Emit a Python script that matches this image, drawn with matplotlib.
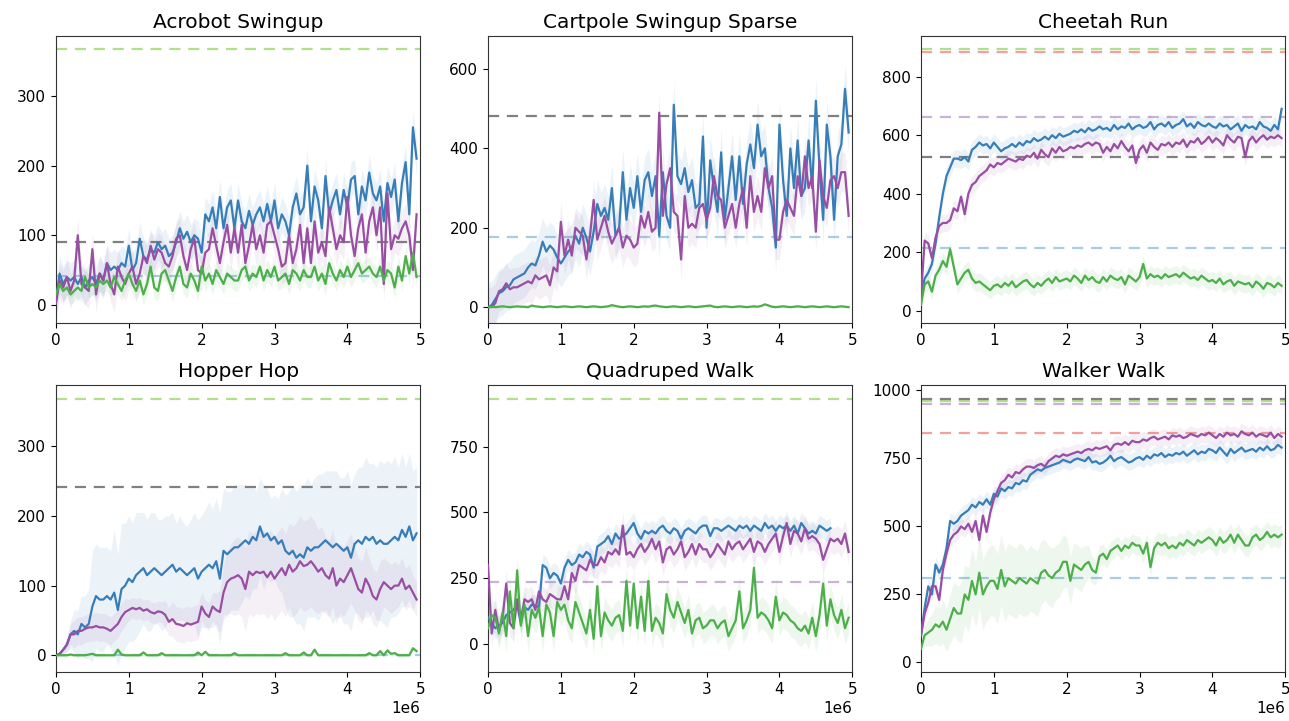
import numpy as np
import matplotlib
matplotlib.use("Agg")
import matplotlib.pyplot as plt

# environment steps, one eval every 50k steps
steps = np.arange(100) * 50000

titles = ["Acrobot Swingup", "Cartpole Swingup Sparse", "Cheetah Run",
          "Hopper Hop", "Quadruped Walk", "Walker Walk"]

# ---- mean returns ----
acro_blue = [5, 45, 30, 40, 35, 40, 30, 40, 25, 35,
             40, 30, 45, 35, 60, 50, 55, 50, 60, 55,
             85, 50, 60, 95, 70, 65, 80, 75, 90, 80,
             85, 70, 75, 90, 110, 95, 105, 90, 100, 95,
             75, 130, 120, 140, 110, 155, 110, 140, 150, 110,
             150, 120, 110, 135, 115, 130, 140, 120, 145, 120,
             150, 110, 130, 120, 100, 140, 160, 130, 140, 200,
             120, 170, 150, 110, 185, 130, 150, 165, 130, 165,
             140, 180, 185, 130, 170, 150, 190, 160, 150, 170,
             120, 175, 155, 180, 120, 175, 205, 130, 255, 210]
acro_purple = [2, 35, 25, 40, 20, 35, 100, 30, 25, 20,
               80, 15, 45, 35, 60, 30, 15, 55, 40, 30,
               45, 55, 30, 45, 70, 60, 85, 65, 80, 75,
               60, 55, 70, 95, 100, 70, 50, 80, 95, 50,
               45, 75, 80, 110, 85, 60, 90, 115, 75, 110,
               75, 115, 60, 85, 115, 80, 100, 75, 115, 120,
               100, 80, 55, 60, 100, 60, 80, 115, 60, 110,
               60, 120, 75, 90, 70, 140, 110, 80, 100, 90,
               155, 100, 70, 110, 130, 75, 120, 140, 100, 140,
               30, 160, 80, 100, 95, 110, 120, 100, 50, 130]
acro_green = [15, 30, 20, 25, 15, 20, 25, 20, 40, 25,
              30, 25, 35, 30, 35, 25, 40, 30, 20, 35,
              45, 30, 20, 35, 15, 30, 55, 25, 20, 45,
              50, 35, 20, 40, 55, 30, 25, 45, 35, 20,
              55, 35, 45, 30, 50, 40, 30, 45, 40, 35,
              35, 50, 55, 35, 45, 40, 55, 35, 50, 40,
              55, 35, 40, 45, 30, 50, 45, 35, 50, 40,
              40, 55, 35, 45, 30, 60, 45, 35, 50, 40,
              55, 40, 50, 60, 45, 50, 55, 45, 40, 55,
              35, 50, 45, 25, 55, 35, 70, 45, 75, 40]

cart_blue = [0, 5, 20, 35, 40, 50, 55, 70, 75, 80,
             85, 100, 110, 105, 130, 165, 140, 155, 145, 125,
             110, 125, 140, 150, 180, 160, 200, 175, 140, 190,
             260, 230, 250, 220, 300, 180, 200, 340, 220, 300,
             250, 330, 240, 320, 340, 280, 330, 180, 340, 230,
             200, 510, 330, 310, 350, 290, 320, 250, 260, 430,
             200, 370, 300, 240, 390, 220, 300, 380, 270, 380,
             260, 360, 410, 350, 460, 380, 400, 300, 250, 150,
             460, 320, 230, 400, 300, 420, 280, 300, 420, 300,
             520, 350, 220, 460, 380, 220, 380, 410, 550, 440]
cart_purple = [0, 0, 10, 40, 45, 60, 45, 50, 50, 55,
               60, 65, 60, 80, 70, 75, 80, 55, 100, 90,
               215, 130, 170, 130, 200, 190, 180, 120, 180, 270,
               170, 200, 230, 190, 160, 180, 200, 150, 180, 170,
               150, 160, 230, 200, 240, 190, 200, 490, 230, 310,
               350, 240, 230, 120, 280, 200, 210, 200, 250, 260,
               220, 250, 330, 280, 270, 200, 230, 260, 200, 260,
               300, 200, 330, 240, 280, 240, 350, 300, 330, 170,
               170, 240, 270, 250, 230, 330, 280, 380, 300, 330,
               190, 370, 280, 250, 320, 330, 300, 340, 340, 230]
cart_green = [0, 1, 0, 1, 2, 1, 0, 1, 2, 1,
              1, 0, 4, 2, 1, 0, 1, 2, 1, 0,
              1, 2, 1, 0, 1, 2, 1, 0, 1, 2,
              1, 0, 1, 2, 5, 3, 1, 0, 1, 2,
              1, 0, 1, 2, 1, 3, 4, 2, 1, 0,
              1, 2, 1, 0, 1, 2, 1, 0, 1, 2,
              3, 4, 1, 0, 1, 2, 1, 0, 1, 2,
              1, 0, 1, 2, 1, 3, 7, 4, 1, 0,
              1, 2, 1, 0, 1, 2, 1, 0, 1, 2,
              1, 0, 1, 2, 1, 0, 1, 2, 1, 0]

cheetah_blue = [50, 110, 130, 160, 230, 320, 400, 460, 490, 520,
                520, 515, 525, 510, 550, 560, 575, 565, 570, 555,
                575, 560, 545, 555, 560, 570, 560, 575, 565, 580,
                575, 590, 580, 585, 595, 585, 600, 590, 605, 595,
                600, 605, 615, 610, 620, 610, 625, 615, 620, 630,
                620, 625, 615, 635, 620, 630, 625, 640, 620, 630,
                635, 625, 630, 645, 620, 635, 640, 630, 645, 625,
                635, 640, 655, 630, 640, 625, 645, 635, 630, 640,
                630, 625, 640, 630, 635, 620, 630, 640, 615, 635,
                625, 630, 620, 645, 630, 625, 615, 635, 620, 690]
cheetah_purple = [50, 240, 230, 180, 250, 290, 300, 300, 310, 350,
                  340, 390, 330, 400, 430, 440, 460, 470, 480, 500,
                  490, 505, 500, 510, 520, 515, 510, 520, 515, 530,
                  525, 540, 520, 550, 535, 525, 555, 540, 560, 545,
                  550, 560, 555, 565, 560, 570, 575, 565, 575, 570,
                  540, 560, 545, 570, 555, 580, 560, 545, 565, 505,
                  550, 565, 540, 575, 560, 550, 570, 565, 575, 560,
                  575, 570, 585, 560, 580, 575, 590, 570, 580, 595,
                  575, 590, 580, 565, 600, 585, 575, 595, 590, 525,
                  580, 595, 575, 590, 600, 585, 595, 590, 600, 590]
cheetah_green = [20, 90, 100, 65, 120, 140, 170, 150, 210, 150,
                 90, 110, 130, 140, 110, 95, 100, 90, 80, 70,
                 85, 90, 80, 95, 85, 100, 80, 90, 100, 105,
                 90, 80, 95, 85, 100, 110, 95, 115, 100, 105,
                 110, 100, 120, 110, 95, 120, 105, 115, 100, 95,
                 115, 100, 120, 110, 105, 115, 90, 120, 110, 100,
                 115, 160, 110, 125, 115, 120, 110, 125, 115, 120,
                 125, 115, 130, 120, 110, 115, 105, 120, 110, 100,
                 105, 95, 110, 90, 100, 105, 85, 100, 95, 90,
                 95, 80, 100, 90, 75, 95, 90, 80, 95, 85]

hopper_blue = [0, 2, 8, 15, 30, 35, 30, 45, 40, 45,
               70, 85, 80, 80, 85, 80, 90, 65, 95, 100,
               110, 105, 115, 120, 125, 115, 120, 125, 120, 115,
               120, 125, 130, 120, 125, 120, 115, 120, 125, 110,
               120, 125, 130, 125, 135, 110, 150, 145, 150, 155,
               155, 160, 165, 160, 170, 165, 185, 170, 175, 165,
               170, 160, 165, 150, 145, 150, 140, 145, 140, 155,
               150, 155, 155, 160, 165, 160, 155, 160, 155, 150,
               155, 140, 160, 165, 160, 170, 165, 170, 160, 165,
               160, 160, 165, 170, 165, 180, 170, 185, 165, 175]
hopper_purple = [0, 2, 8, 15, 30, 30, 35, 35, 38, 40,
                 40, 42, 40, 40, 38, 35, 40, 45, 55, 62,
                 65, 68, 66, 68, 64, 66, 62, 60, 63, 62,
                 58, 48, 52, 45, 44, 42, 46, 44, 46, 48,
                 70, 60, 55, 70, 65, 62, 90, 105, 110, 112,
                 115, 110, 95, 120, 115, 120, 118, 120, 112, 120,
                 110, 118, 125, 115, 130, 120, 125, 135, 128, 130,
                 135, 128, 120, 125, 115, 110, 125, 100, 110, 105,
                 115, 125, 110, 95, 90, 110, 100, 85, 80, 95,
                 105, 100, 95, 100, 100, 110, 95, 100, 90, 80]
hopper_green = [0, 0, 0, 0, 1, 0, 0, 0, 0, 1,
                2, 0, 0, 0, 0, 0, 0, 8, 1, 0,
                0, 0, 0, 0, 4, 0, 0, 0, 0, 3,
                0, 0, 0, 0, 0, 0, 0, 0, 0, 4,
                0, 5, 0, 0, 0, 0, 0, 0, 0, 3,
                0, 0, 0, 0, 0, 0, 0, 0, 0, 0,
                0, 0, 0, 3, 0, 0, 0, 0, 4, 0,
                0, 8, 0, 0, 0, 0, 0, 0, 0, 0,
                0, 0, 0, 0, 0, 0, 3, 0, 0, 6,
                0, 7, 2, 3, 0, 0, 0, 0, 10, 6]

quad_blue = [100, 80, 60, 70, 80, 110, 120, 130, 150, 80,
             140, 130, 150, 145, 140, 300, 290, 250, 270, 260,
             230, 290, 320, 300, 310, 340, 330, 350, 340, 290,
             370, 380, 390, 410, 380, 420, 400, 410, 420, 440,
             460, 420, 400, 430, 420, 430, 420, 440, 450, 430,
             420, 440, 430, 400, 430, 440, 430, 420, 440, 450,
             450, 410, 440, 440, 430, 440, 450, 440, 430, 450,
             440, 450, 430, 450, 440, 430, 460, 440, 450, 430,
             450, 440, 450, 430, 450, 420, 460, 440, 420, 430,
             420, 450, 440, 430, 440]
quad_purple = [300, 40, 130, 50, 100, 230, 80, 60, 170, 90,
               170, 160, 170, 130, 200, 170, 160, 190, 180, 170,
               170, 220, 170, 270, 240, 300, 290, 280, 320, 300,
               300, 330, 310, 350, 340, 360, 340, 450, 340, 350,
               330, 360, 380, 350, 370, 400, 360, 390, 310, 360,
               370, 340, 360, 390, 330, 350, 380, 340, 380, 360,
               360, 330, 350, 380, 360, 340, 390, 360, 380, 390,
               360, 380, 400, 350, 390, 380, 350, 380, 400, 420,
               350, 410, 460, 380, 430, 420, 390, 440, 400, 410,
               400, 380, 320, 360, 400, 390, 400, 380, 420, 350]
quad_green = [60, 110, 100, 40, 120, 30, 200, 60, 280, 70,
              150, 30, 130, 100, 140, 30, 150, 120, 30, 160,
              130, 150, 90, 60, 160, 120, 80, 40, 130, 20,
              220, 30, 120, 90, 70, 100, 110, 50, 240, 70,
              230, 60, 180, 50, 240, 50, 100, 80, 40, 190,
              130, 100, 160, 120, 80, 130, 40, 90, 100, 60,
              70, 90, 90, 60, 80, 90, 30, 60, 90, 200,
              60, 90, 130, 290, 100, 120, 110, 90, 60, 180,
              90, 120, 110, 90, 80, 60, 50, 70, 40, 100,
              30, 110, 230, 70, 170, 110, 80, 130, 60, 100]

walker_blue = [100, 200, 280, 250, 360, 330, 360, 420, 520, 510,
               520, 540, 550, 560, 580, 570, 590, 580, 600, 580,
               620, 610, 640, 630, 645, 640, 660, 655, 670, 665,
               690, 700, 710, 705, 715, 720, 725, 730, 735, 745,
               740, 735, 745, 750, 745, 740, 755, 735, 740, 730,
               735, 745, 760, 740, 750, 755, 745, 735, 740, 750,
               755, 745, 760, 750, 765, 760, 770, 755, 765, 760,
               770, 765, 775, 760, 770, 780, 765, 775, 770, 785,
               780, 770, 790, 775, 760, 785, 770, 780, 790, 775,
               780, 785, 775, 790, 780, 795, 780, 785, 800, 790]
walker_purple = [100, 180, 220, 280, 280, 230, 340, 400, 450, 470,
                 480, 500, 490, 510, 480, 520, 450, 540, 480, 550,
                 600, 630, 660, 670, 690, 680, 700, 695, 710, 720,
                 720, 715, 725, 730, 720, 740, 750, 760, 755, 765,
                 760, 765, 770, 775, 770, 780, 785, 780, 790, 785,
                 790, 795, 780, 800, 805, 800, 810, 800, 815, 810,
                 810, 820, 815, 825, 830, 820, 825, 830, 820, 835,
                 830, 835, 825, 830, 840, 835, 830, 840, 835, 845,
                 835, 825, 840, 830, 845, 835, 840, 830, 850, 840,
                 835, 845, 830, 840, 835, 830, 845, 825, 840, 830]
walker_green = [50, 100, 110, 120, 140, 130, 150, 120, 160, 200,
                180, 180, 250, 230, 300, 250, 330, 250, 280, 300,
                300, 270, 340, 280, 310, 300, 290, 310, 300, 290,
                310, 300, 290, 330, 340, 320, 310, 330, 340, 370,
                370, 300, 360, 350, 340, 360, 370, 340, 330, 390,
                400, 380, 410, 420, 430, 410, 430, 420, 440, 430,
                430, 400, 440, 350, 420, 440, 430, 440, 420, 430,
                420, 440, 430, 450, 440, 430, 450, 440, 450, 460,
                450, 430, 460, 440, 450, 470, 440, 470, 450, 430,
                430, 460, 470, 450, 460, 480, 460, 470, 460, 470]

# ---- spread (std) estimates ----
hopper_blue_std = [0, 2, 5, 10, 20, 30, 35, 40, 45, 50,
                   80, 75, 75, 75, 70, 70, 90, 80, 95, 90,
                   90, 85, 90, 85, 80, 80, 85, 80, 75, 80,
                   80, 75, 75, 70, 75, 70, 70, 75, 80, 85,
                   80, 85, 90, 85, 90, 95, 90, 90, 85, 90,
                   90, 85, 80, 80, 75, 70, 70, 75, 65, 60,
                   60, 65, 75, 80, 90, 95, 95, 100, 105, 100,
                   95, 100, 105, 100, 100, 105, 110, 105, 100, 105,
                   110, 105, 100, 105, 110, 115, 110, 105, 110, 115,
                   115, 120, 110, 115, 105, 110, 100, 105, 100, 95]
hopper_purple_std = [0, 2, 5, 10, 15, 20, 20, 20, 20, 20,
                     20, 20, 20, 20, 20, 20, 20, 20, 20, 20,
                     15, 15, 15, 15, 15, 15, 15, 15, 15, 15,
                     20, 20, 25, 25, 25, 25, 25, 25, 25, 25,
                     20, 20, 20, 20, 25, 30, 40, 45, 50, 55,
                     55, 55, 60, 60, 60, 60, 60, 60, 60, 60,
                     60, 60, 60, 60, 60, 65, 65, 65, 65, 65,
                     65, 65, 60, 60, 55, 55, 55, 55, 50, 50,
                     50, 50, 45, 45, 45, 45, 40, 40, 40, 40,
                     35, 35, 35, 35, 30, 30, 30, 30, 25, 25]
walker_green_std = [10, 40, 50, 60, 70, 70, 80, 80, 90, 100,
                    100, 110, 110, 120, 120, 120, 130, 130, 130, 130,
                    130, 130, 130, 130, 130, 130, 130, 130, 130, 120,
                    120, 120, 120, 120, 110, 110, 110, 100, 100, 100,
                    90, 90, 80, 80, 80, 70, 60, 50, 45, 40,
                    35, 35, 35, 35, 35, 35, 35, 35, 35, 35,
                    35, 35, 35, 35, 40, 40, 40, 40, 40, 40,
                    40, 40, 40, 40, 40, 40, 40, 40, 40, 40,
                    40, 40, 40, 40, 40, 40, 40, 40, 40, 40,
                    40, 40, 40, 40, 40, 40, 40, 40, 40, 40]

means = [
    [acro_blue, acro_purple, acro_green],
    [cart_blue, cart_purple, cart_green],
    [cheetah_blue, cheetah_purple, cheetah_green],
    [hopper_blue, hopper_purple, hopper_green],
    [quad_blue, quad_purple, quad_green],
    [walker_blue, walker_purple, walker_green],
]
stds = [
    [25, 25, 15],
    [60, 50, 3],
    [30, 30, 30],
    [hopper_blue_std, hopper_purple_std, 3],
    [40, 50, 60],
    [30, 30, walker_green_std],
]

# ---- baseline scores (dashed horizontals), nan = not shown ----
nan = np.nan
base_lightgreen = [367, nan, 894, 368, 929, 961]
base_gray = [91, 482, 525, 241, nan, 969]
base_lightblue = [41, 177, 214, 0, nan, 311]
base_lightred = [nan, nan, 885, nan, nan, 842]
base_lavender = [nan, nan, 662, nan, 236, 952]

ylims = [(-26, 386), (-40, 683), (-42, 939), (-24, 388), (-106, 984), (-35, 1020)]
yticks = [[0, 100, 200, 300], [0, 200, 400, 600], [0, 200, 400, 600, 800],
          [0, 100, 200, 300], [0, 250, 500, 750], [0, 250, 500, 750, 1000]]

line_colors = ["#377eb8", "#984ea3", "#4daf4a"]
base_colors = [("#b2df8a", base_lightgreen), ("#808080", base_gray),
               ("#a6cee3", base_lightblue), ("#f4a09c", base_lightred),
               ("#cab2d6", base_lavender)]

fig = plt.figure(figsize=(12.89, 7.21), dpi=100)
lefts = [0.0434, 0.3786, 0.7145]
bottoms = [0.552, 0.068]
w, h = 0.2826, 0.398

for k, title in enumerate(titles):
    r, c = divmod(k, 3)
    ax = fig.add_axes([lefts[c], bottoms[r], w, h])

    for color, vals in base_colors:
        if not np.isnan(vals[k]):
            ax.axhline(vals[k], color=color, linestyle="--", linewidth=1.6,
                       dashes=(5, 3.5), zorder=1)

    for mean, sd, color in zip(means[k], stds[k], line_colors):
        m = np.array(mean, dtype=float)
        s = np.array(sd, dtype=float)
        x = steps[:len(m)]
        ax.fill_between(x, m - s, m + s, color=color, alpha=0.09,
                        linewidth=0, zorder=2)
        ax.plot(x, m, color=color, linewidth=1.6, zorder=3)

    ax.set_xlim(0, 5e6)
    ax.set_ylim(*ylims[k])
    ax.set_yticks(yticks[k])
    ax.set_xticks([0, 1e6, 2e6, 3e6, 4e6, 5e6])
    ax.set_title(title, fontsize=14.5)
    ax.tick_params(labelsize=11)
    if r == 0:
        ax.xaxis.get_offset_text().set_visible(False)
    else:
        ax.xaxis.get_offset_text().set_fontsize(11)
    for sp in ax.spines.values():
        sp.set_color("#333333")

fig.savefig("out.png", dpi=100)
